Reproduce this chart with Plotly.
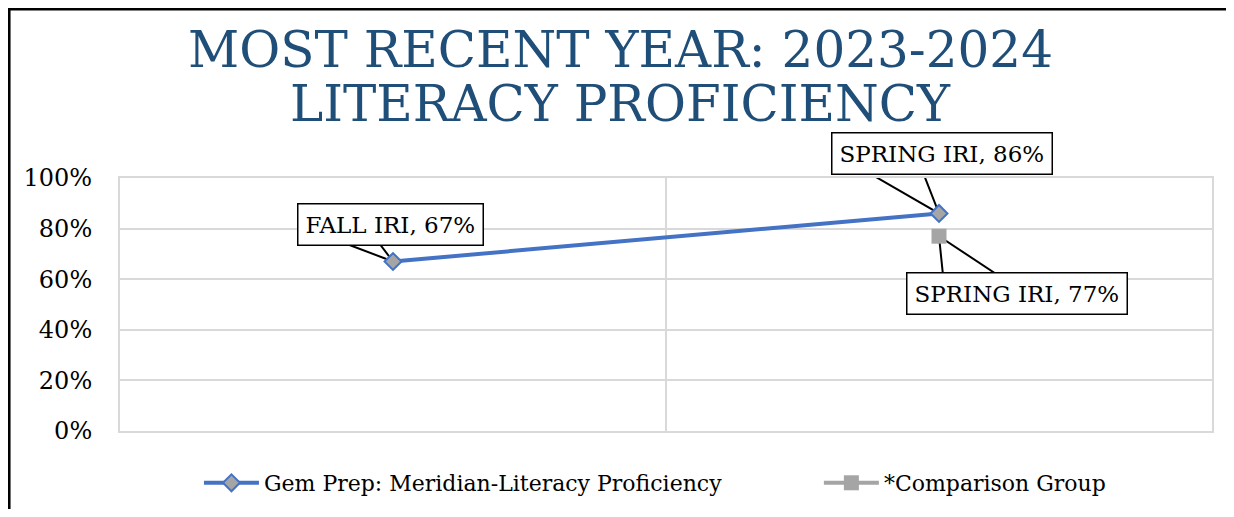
import plotly.graph_objects as go

# ---- data ----
categories = ["FALL IRI", "SPRING IRI"]
gem_values = [0.67, 0.86]
comparison_values = [None, 0.77]
series_names = ["Gem Prep: Meridian-Literacy Proficiency", "*Comparison Group"]
title_lines = ["MOST RECENT YEAR: 2023-2024", "LITERACY PROFICIENCY"]
y_ticks = [0, 0.2, 0.4, 0.6, 0.8, 1.0]

FONT = "DejaVu Serif"
BLUE = "#4472C4"
GRAY = "#A5A5A5"
GRID = "#D9D9D9"
TITLE_COLOR = "#1F4E79"

x_idx = list(range(len(categories)))

fig = go.Figure()
fig.add_trace(go.Scatter(
    x=x_idx, y=gem_values, name=series_names[0], mode="lines+markers",
    line=dict(color=BLUE, width=4),
    marker=dict(symbol="diamond", size=13, color=GRAY, line=dict(color=BLUE, width=2)),
    legend="legend",
))
fig.add_trace(go.Scatter(
    x=x_idx, y=comparison_values, name=series_names[1], mode="lines+markers",
    line=dict(color=GRAY, width=4),
    marker=dict(symbol="square", size=15, color=GRAY, line=dict(width=0)),
    legend="legend2",
))

# callouts: (values, point index, box xshift, box yshift, wedge base pts in px)
callouts = [
    (gem_values, 0, -3, 37, [(-66, 25), (-19, 25)]),
    (gem_values, 1, 3, 60, [(-71, 41), (-16, 41)]),
    (comparison_values, 1, 78, -57, [(4, -39), (59, -39)]),
]
for vals, i, dx, dy, base in callouts:
    v = vals[i]
    (x1, y1), (x2, y2) = base
    fig.add_shape(
        type="path", xref="x", yref="y", xsizemode="pixel", ysizemode="pixel",
        xanchor=x_idx[i], yanchor=v,
        path=f"M {x1},{y1} L 0,0 L {x2},{y2} Z",
        fillcolor="white", line=dict(color="black", width=2), layer="between",
    )
    fig.add_annotation(
        x=x_idx[i], y=v, xref="x", yref="y", xshift=dx, yshift=dy,
        text=f"{categories[i]}, {v:.0%}", showarrow=False,
        font=dict(family=FONT, size=23, color="black"),
        bgcolor="white", bordercolor="black", borderwidth=1.5, borderpad=7,
    )

# title as two annotation lines
for line, ypos in zip(title_lines, [1.506, 1.292]):
    fig.add_annotation(
        x=0.458, y=ypos, xref="paper", yref="paper", xanchor="center", yanchor="middle",
        text=line, showarrow=False,
        font=dict(family=FONT, size=50, color=TITLE_COLOR),
    )

# outer frame (extends beyond the visible crop on right/bottom)
fig.add_shape(type="rect", xref="paper", yref="paper",
              x0=-0.1016, y0=-0.40, x1=1.03, y1=1.668,
              line=dict(color="black", width=3), layer="below")

legend_common = dict(orientation="h", y=-0.2055, yanchor="middle", xanchor="left",
                     font=dict(family=FONT, size=22, color="black"),
                     itemwidth=55, bgcolor="rgba(0,0,0,0)")

fig.update_layout(
    width=1218, height=501,
    margin=dict(l=112, r=14, t=170, b=78, autoexpand=False),
    paper_bgcolor="white", plot_bgcolor="white",
    font=dict(family=FONT, size=22, color="black"),
    showlegend=True,
    legend=dict(x=0.0723, **legend_common),
    legend2=dict(x=0.640, **legend_common),
    xaxis=dict(range=[-0.5, 1.5], tickvals=[-0.5, 0.5, 1.5], showticklabels=False,
               showgrid=True, gridcolor=GRID, gridwidth=2, zeroline=False,
               showline=True, linecolor=GRID, linewidth=2, mirror=True, ticks=""),
    yaxis=dict(range=[0, 1], tickvals=y_ticks, tickformat=".0%",
               showgrid=True, gridcolor=GRID, gridwidth=2, zeroline=False,
               showline=True, linecolor=GRID, linewidth=2, mirror=True,
               ticks="", ticklabelstandoff=21,
               tickfont=dict(family=FONT, size=24, color="black")),
)

fig.write_html("out.html")
